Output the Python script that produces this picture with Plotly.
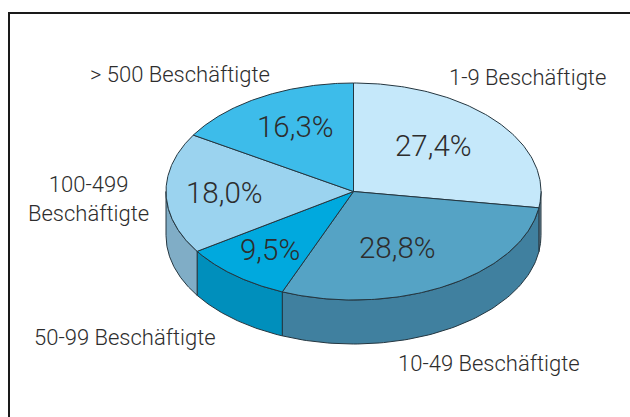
import numpy as np
import plotly.graph_objects as go

categories = ["1-9 Beschäftigte", "10-49 Beschäftigte", "50-99 Beschäftigte",
              "100-499<br>Beschäftigte", "> 500 Beschäftigte"]
values = [27.4, 28.8, 9.5, 18.0, 16.3]
value_labels = ["27,4%", "28,8%", "9,5%", "18,0%", "16,3%"]
top_colors = ["#c5e8fa", "#55a3c5", "#00a9de", "#9bd3ef", "#3dbcea"]
side_colors = ["#6f8b9b", "#40809f", "#008fbc", "#80adc6", "#3dbcea"]

CX, CY, RX, RY, DEPTH = 353.5, 191.5, 187.5, 108.5, 44
EDGE = "#243640"
TEXT = "#2d2d2d"
FONT = "Roboto"
LABEL_SIZE = 22
VALUE_SIZE = 29.5

label_pos = [(527, 77), (489, 363), (125, 337), (88, 199), (180, 74)]
value_pos = [(433, 146), (397, 248), (270, 250), (224, 193), (295, 127)]


def ex(t):
    return CX + RX * np.sin(t)


def ey(t):
    return CY - RY * np.cos(t)


fig = go.Figure()
cum = np.concatenate([[0], np.cumsum(values)]) / sum(values) * 2 * np.pi

# extruded rim: only the part of the rim facing the viewer (pi/2 .. 3pi/2)
for i in range(len(values)):
    a, b = max(cum[i], np.pi / 2), min(cum[i + 1], 3 * np.pi / 2)
    if b <= a:
        continue
    t = np.linspace(a, b, 80)
    xs = np.concatenate([ex(t), ex(t[::-1]), ex(t[:1])])
    ys = np.concatenate([ey(t), ey(t[::-1]) + DEPTH, ey(t[:1])])
    fig.add_trace(go.Scatter(x=xs, y=ys, mode="lines", fill="toself", fillcolor=side_colors[i],
                             line=dict(color=EDGE, width=1), hoverinfo="skip", showlegend=False))

# top face
for i in range(len(values)):
    t = np.linspace(cum[i], cum[i + 1], 120)
    xs = np.concatenate([[CX], ex(t), [CX]])
    ys = np.concatenate([[CY], ey(t), [CY]])
    fig.add_trace(go.Scatter(x=xs, y=ys, mode="lines", fill="toself", fillcolor=top_colors[i],
                             line=dict(color=EDGE, width=1), name=categories[i].replace("<br>", " "),
                             hoverinfo="name", showlegend=False))

for name, (x, y) in zip(categories, label_pos):
    fig.add_annotation(x=x, y=y, text=name, showarrow=False, xanchor="center", yanchor="middle",
                       font=dict(family=FONT, size=LABEL_SIZE, color=TEXT, weight=300))
for txt, (x, y) in zip(value_labels, value_pos):
    fig.add_annotation(x=x, y=y, text=txt, showarrow=False, xanchor="center", yanchor="middle",
                       font=dict(family=FONT, size=VALUE_SIZE, color=TEXT, weight=300))

# frame: top and left sides only
fig.add_shape(type="path", path="M 9 418 L 9 13 L 631 13", line=dict(color="#1a1a1a", width=2))

fig.update_layout(
    width=630, height=417, margin=dict(l=0, r=0, t=0, b=0), paper_bgcolor="white", plot_bgcolor="white",
    xaxis=dict(range=[0, 630], visible=False, fixedrange=True),
    yaxis=dict(range=[417, 0], visible=False, fixedrange=True),
)
fig.write_html("out.html", config=dict(displayModeBar=False),
               post_script="document.body.style.margin='0';document.documentElement.style.overflow='hidden';")
